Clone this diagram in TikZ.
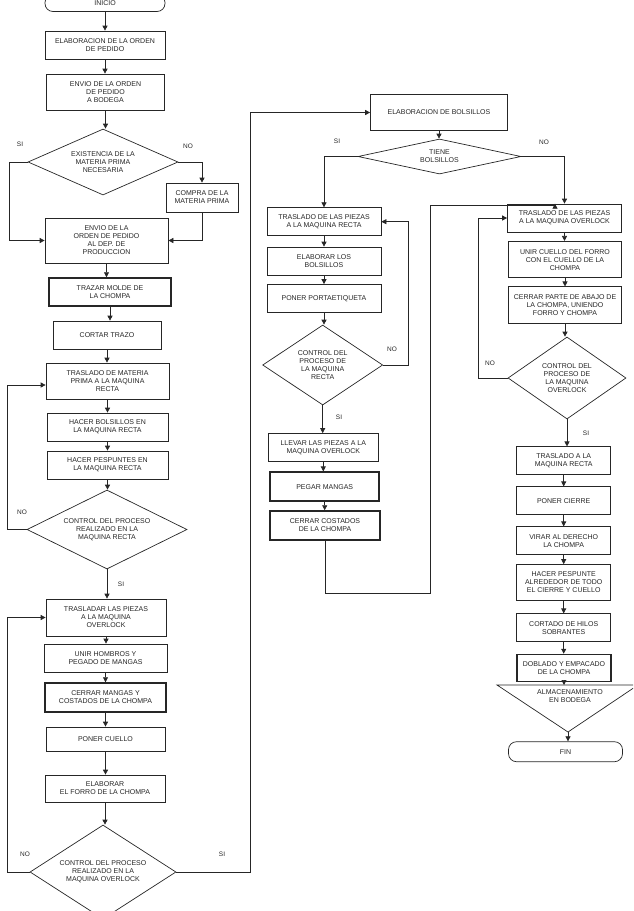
\documentclass[tikz,border=0pt]{standalone}
\usepackage{fontspec}
\setmainfont{Liberation Sans}
\usepackage{tikz}
\usetikzlibrary{shapes.geometric, arrows.meta}
\tikzset{
  link/.style={draw=black!85, line width=0.7pt},
  arrow/.style={link, -{Triangle[length=5pt, width=5pt]}},
  proc/.style 2 args={link, rectangle, align=center, inner sep=1pt, minimum width=#1pt, minimum height=#2pt},
  heavy/.style={line width=1.5pt},
  decision/.style n args={3}{link, diamond, align=center, inner sep=0pt, aspect=#3, minimum width=#1pt, minimum height=#2pt},
  term/.style 2 args={link, rectangle, rounded corners=8pt, align=center, minimum width=#1pt, minimum height=#2pt},
  lbl/.style={font=\fontsize{6.5}{7}\selectfont}
}

\begin{document}
\begin{tikzpicture}[x=1pt, y=-1pt, font=\fontsize{7}{8}\selectfont, text=black!85]
	\clip (0,0) rectangle (633,911);
	% columna izquierda
	\node[term={120}{17}] (ini) at (105,3) {INICIO};
	\node[proc={120}{28}] (b1) at (105,45) {ELABORACION DE LA ORDEN\\DE PEDIDO};
	\node[proc={118}{36}] (b2) at (105.5,92) {ENVIO DE LA ORDEN\\DE PEDIDO\\A BODEGA};
	\node[decision={150}{66}{2.27}] (d1) at (103,162) {EXISTENCIA DE LA\\MATERIA PRIMA\\NECESARIA};
	\node[proc={72}{29}] (compra) at (202,197.5) {COMPRA DE LA\\MATERIA PRIMA};
	\node[proc={123}{45}] (b3) at (106.5,240.5) {ENVIO DE LA\\ORDEN DE PEDIDO\\AL DEP. DE\\PRODUCCION};
	\node[proc={122}{28}, heavy] (b4) at (110,292) {TRAZAR MOLDE DE\\LA CHOMPA};
	\node[proc={108}{28}] (b5) at (107,335) {CORTAR TRAZO};
	\node[proc={123}{36}] (b6) at (107.5,381) {TRASLADO DE MATERIA\\PRIMA A LA MAQUINA\\RECTA};
	\node[proc={121}{28}] (b7) at (107.5,427) {HACER BOLSILLOS EN\\LA MAQUINA RECTA};
	\node[proc={121}{28}] (b8) at (107.5,465) {HACER PESPUNTES EN\\LA MAQUINA RECTA};
	\node[decision={160}{79}{2.03}] (d2) at (107,529.5) {CONTROL DEL PROCESO\\REALIZADO EN LA\\MAQUINA RECTA};
	\node[proc={120}{37}] (b9) at (106,617.5) {TRASLADAR LAS PIEZAS\\A LA MAQUINA\\OVERLOCK};
	\node[proc={123}{28}] (b10) at (105.5,658) {UNIR HOMBROS Y\\PEGADO DE MANGAS};
	\node[proc={121}{29}, heavy] (b11) at (105.5,697.5) {CERRAR MANGAS Y\\COSTADOS DE LA CHOMPA};
	\node[proc={119}{24}] (b12) at (105.5,739) {PONER CUELLO};
	\node[proc={120}{27}] (b13) at (105,788.5) {ELABORAR\\EL FORRO DE LA CHOMPA};
	\node[decision={146}{94}{1.55}] (d3) at (103,872) {CONTROL DEL PROCESO\\REALIZADO EN LA\\MAQUINA OVERLOCK};
	% columna central
	\node[proc={137}{36}] (m0) at (439,112.5) {ELABORACION DE BOLSILLOS};
	\node[decision={163}{35}{4.66}] (d4) at (439.5,156.5) {TIENE\\BOLSILLOS};
	\node[proc={114}{28}] (m1) at (324,221.7) {TRASLADO DE LAS PIEZAS\\A LA MAQUINA RECTA};
	\node[proc={114}{28}] (m2) at (324,261) {ELABORAR LOS\\BOLSILLOS};
	\node[proc={114}{28}] (m3) at (324,298.5) {PONER PORTAETIQUETA};
	\node[decision={120}{80}{1.5}] (d5) at (322.7,365) {CONTROL DEL\\PROCESO DE\\LA MAQUINA\\RECTA};
	\node[proc={110}{28}] (m4) at (323.3,447.5) {LLEVAR LAS PIEZAS A LA\\MAQUINA OVERLOCK};
	\node[proc={109}{29}, heavy] (m5) at (324.7,486.7) {PEGAR MANGAS};
	\node[proc={110}{29}, heavy] (m6) at (325,525.5) {CERRAR COSTADOS\\DE LA CHOMPA};
	% columna derecha
	\node[proc={114}{28}] (r1) at (564.5,218) {TRASLADO DE LAS PIEZAS\\A LA MAQUINA OVERLOCK};
	\node[proc={113}{36}, heavy] (r2) at (565,259.7) {UNIR CUELLO DEL FORRO\\CON EL CUELLO DE LA\\CHOMPA};
	\node[proc={113}{37}] (r3) at (565,305.3) {CERRAR PARTE DE ABAJO DE\\LA CHOMPA, UNIENDO\\FORRO Y CHOMPA};
	\node[decision={118}{82}{1.44}] (d6) at (567,378) {CONTROL DEL\\PROCESO DE\\LA MAQUINA\\OVERLOCK};
	\node[proc={94}{28}] (r4) at (563.7,460.8) {TRASLADO A LA\\MAQUINA RECTA};
	\node[proc={94}{28}] (r5) at (563.7,500.8) {PONER CIERRE};
	\node[proc={94}{28}] (r6) at (563.7,540.8) {VIRAR AL DERECHO\\LA CHOMPA};
	\node[proc={94}{36}] (r7) at (563.7,582.5) {HACER PESPUNTE\\ALREDEDOR DE TODO\\EL CIERRE Y CUELLO};
	\node[proc={94}{28}] (r8) at (563.7,627.8) {CORTADO DE HILOS\\SOBRANTES};
	\node[proc={94}{27}, heavy] (r9) at (564,668) {DOBLADO Y EMPACADO\\DE LA CHOMPA};
	\coordinate (almL) at (497,685);
	\coordinate (almR) at (638,685);
	\coordinate (almB) at (568,732);
	\draw[link] (almL) -- (almR) -- (almB) -- cycle;
	\node[align=center] (alm) at (570,696) {ALMACENAMIENTO\\EN BODEGA};
	\node[term={114}{20}] (fin) at (565.5,751.7) {FIN};
	% flechas verticales
	\foreach \a/\b in {ini/b1,b1/b2,b2/d1,b3/b4,b4/b5,b5/b6,b6/b7,b7/b8,b8/d2,d2/b9,b9/b10,b10/b11,b11/b12,b12/b13,b13/d3,
		m0/d4,m1/m2,m2/m3,m3/d5,d5/m4,m4/m5,m5/m6,r1/r2,r2/r3,r3/d6,d6/r4,r4/r5,r5/r6,r6/r7,r7/r8,r8/r9}
		\draw[arrow] (\a.south) -- (\a.south |- \b.north);
	\draw[arrow] (r9.south) -- (r9.south |- almL);
	\draw[arrow] (almB) -- (almB |- fin.north);
	% ramas
	\draw[arrow] (d1.west) -- ++(-18,0) |- (b3.west);
	\draw[arrow] (d1.east) -| (compra.north);
	\draw[arrow] (compra.south) |- (b3.east);
	\draw[arrow] (d2.west) -- ++(-19,0) |- ([yshift=-4pt]b6.west);
	\draw[arrow] (d3.west) -- ++(-22,0) |- (b9.west);
	\draw[arrow] (d3.east) -- ++(74,0) |- (m0.west);
	\draw[arrow] (d4.west) -| (m1.north);
	\draw[arrow] (d4.east) -| (r1.north);
	\draw[arrow] (d5.east) -- ++(25.6,0) |- (m1.east);
	\draw[arrow] (m6.south) -- ++(0,52.5) -- ++(105,0) -- ++(0,-388) -| ([xshift=-9.5pt]r1.north);
	\draw[arrow] (d6.west) -- ++(-29,0) |- (r1.west);
	% etiquetas
	\node[lbl] (s1) at (20,144) {SI};
	\node[lbl] (n1) at (188,146) {NO};
	\node[lbl] (n2) at (22,512) {NO};
	\node[lbl] (s2) at (121,584) {SI};
	\node[lbl] (n3) at (25,854) {NO};
	\node[lbl] (s3) at (222,854) {SI};
	\node[lbl] (s4) at (337,141.7) {SI};
	\node[lbl] (n4) at (544,142) {NO};
	\node[lbl] (n5) at (392,349) {NO};
	\node[lbl] (s5) at (339,417) {SI};
	\node[lbl] (n6) at (490,363) {NO};
	\node[lbl] (s6) at (586,433) {SI};
\end{tikzpicture}
\end{document}
